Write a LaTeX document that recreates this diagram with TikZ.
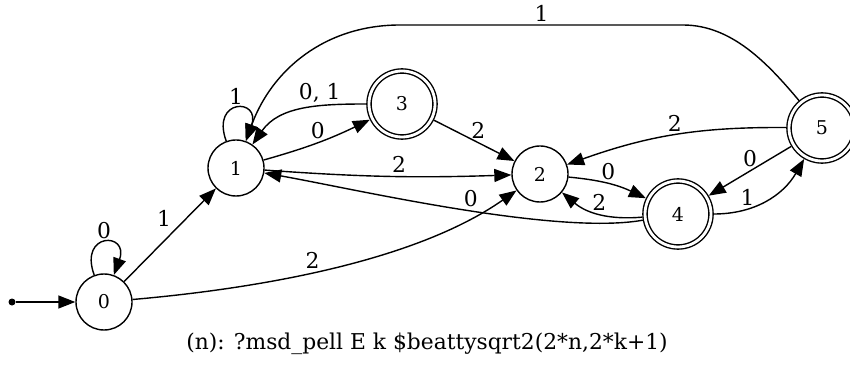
\documentclass[tikz,border=0pt]{standalone}
\usepackage{fontspec}
\setmainfont{DejaVu Serif}
\usetikzlibrary{arrows.meta}

\tikzset{
  state/.style={circle,draw,line width=0.7pt,minimum size=28pt,inner sep=0pt,
    font=\fontsize{9.5}{10}\selectfont},
  accept/.style={state,double,double distance=1.4pt,minimum size=33pt,outer sep=1.4pt},
  edge/.style={line width=0.7pt,-{Triangle[length=8.5pt,width=6.5pt]}},
  lbl/.style={font=\fontsize{10.9}{12}\selectfont,inner sep=1.5pt},
  dot/.style={circle,fill,inner sep=0pt,minimum size=3.5pt},
  selfloop/.style={out=110,in=70,looseness=6},
}

\begin{document}
\begin{tikzpicture}[x=0.5pt,y=0.5pt]
\useasboundingbox (0,0) rectangle (850,364);

%plain states
\foreach \n/\x/\y in {0/104/62,1/236/196,2/540/190}{
	\node[state] (n\n) at (\x,\y) {\n};
}
%accepting states
\foreach \n/\x/\y in {3/402/260,4/678/150,5/822/236}{
	\node[accept] (n\n) at (\x,\y) {\n};
}

%start arrow
\node[dot] (start) at (12,62) {};
\draw[edge] (start) -- (n0);

%edges out of 0 and 1
\draw[edge] (n0) to[selfloop] node[lbl,above] {0} (n0);
\draw[edge] (n0) -- node[lbl,pos=0.55,above left=0pt] {1} (n1);
\draw[edge] (n0) to[out=5,in=-145,looseness=0.8] node[lbl,pos=0.45,above] {2} (n2);
\draw[edge] (n1) to[selfloop] node[lbl,above] {1} (n1);
\draw[edge] (n1) to[bend right=5] node[lbl,above] {0} (n3);
\draw[edge] (n1) to[bend right=3] node[lbl,pos=0.55,above] {2} (n2);

%edges out of 3
\draw[edge] (n3) to[out=180,in=55] node[lbl,pos=0.35,above] {0, 1} (n1);
\draw[edge] (n3) -- node[lbl,pos=0.55,above] {2} (n2);

%edges between 2 and 4
\draw[edge] (n2) to[bend left=10] node[lbl,above] {0} (n4);
\draw[edge] (n4) to[out=185,in=-40] node[lbl,above] {2} (n2);
\draw[edge] (n4) to[out=190,in=-10,looseness=0.6] node[lbl,pos=0.46,above=0pt] {0} (n1);

%edges out of 5
\coordinate (top5) at (683,339);
\coordinate (top1) at (400,339);
\draw[edge] (n5) to[out=130,in=0,looseness=0.9] (top5) -- node[lbl,pos=0.5,above] {1} (top1)
	to[out=180,in=70] (n1);
\draw[edge] (n5) to[bend right=10] node[lbl,above] {2} (n2);
\draw[edge] (n5) -- node[lbl,above] {0} (n4);
\draw[edge] (n4) to[out=0,in=-120] node[lbl,pos=0.3,above] {1} (n5);

%caption
\node[lbl] (caption) at (427,20) {(n): ?msd\_pell E k \$beattysqrt2(2*n,2*k+1)};
\end{tikzpicture}
\end{document}
